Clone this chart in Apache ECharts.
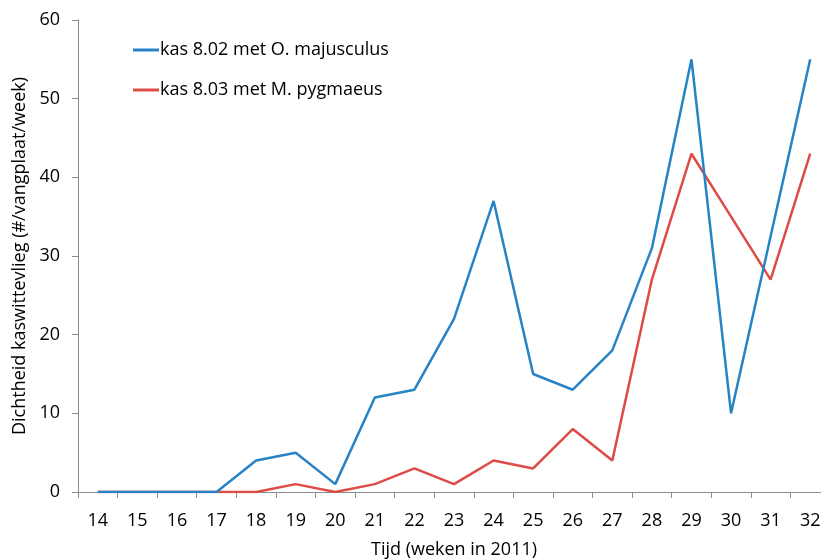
<!DOCTYPE html>
<html>
<head>
<meta charset="utf-8">
<script src="https://cdn.jsdelivr.net/npm/echarts@6/dist/echarts.min.js"></script>
<style>
  html, body { margin: 0; padding: 0; background: #fff; }
  #chart { width: 821px; height: 560px; }
</style>
</head>
<body>
<div id="chart"></div>
<script>
// weeknummers en dichtheden
var weeks = ['14', '15', '16', '17', '18', '19', '20', '21', '22', '23', '24', '25', '26', '27', '28', '29', '30', '31', '32'];
var majusculus = [0, 0, 0, 0, 4, 5, 1, 12, 13, 22, 37, 15, 13, 18, 31, 55, 10, 32.5, 55];
var pygmaeus = [0, 0, 0, 0, 0, 1, 0, 1, 3, 1, 4, 3, 8, 4, 27, 43, 35, 27, 43];
var yTicks = [0, 10, 20, 30, 40, 50, 60];

var chart = echarts.init(document.getElementById('chart'));
var font = 'Open Sans';
var axisGrey = '#8c8c8c';

var option = {
  animation: false,
  textStyle: { fontFamily: font },
  grid: {
    left: 78,
    right: -9,
    top: 20,
    bottom: 68,
    outerBoundsMode: 'none'
  },
  legend: {
    orient: 'vertical',
    left: 128,
    top: 36,
    itemWidth: 26,
    itemHeight: 3,
    itemGap: 22,
    icon: 'rect',
    textStyle: { fontSize: 18, color: '#000', fontFamily: font, padding: [0, 0, 0, -4] },
    data: ['kas 8.02 met O. majusculus', 'kas 8.03 met M. pygmaeus']
  },
  xAxis: {
    type: 'category',
    data: weeks,
    boundaryGap: true,
    name: 'Tijd (weken in 2011)',
    nameLocation: 'middle',
    nameGap: 49,
    nameTextStyle: { fontSize: 18, color: '#000', fontFamily: font },
    axisLine: { lineStyle: { color: axisGrey, width: 1 } },
    axisTick: { show: true, length: 6, lineStyle: { color: axisGrey } },
    axisLabel: { fontSize: 18, color: '#000', margin: 20, fontFamily: font },
    splitLine: { show: false }
  },
  yAxis: {
    type: 'value',
    min: yTicks[0],
    max: yTicks[yTicks.length - 1],
    interval: 10,
    name: 'Dichtheid kaswittevlieg (#/vangplaat/week)',
    nameLocation: 'middle',
    nameGap: 49,
    nameTextStyle: { fontSize: 18, color: '#000', fontFamily: font },
    axisLine: { show: true, lineStyle: { color: axisGrey, width: 1 } },
    axisTick: { show: true, length: 6, lineStyle: { color: axisGrey } },
    axisLabel: { fontSize: 18, color: '#000', margin: 18, fontFamily: font },
    splitLine: { show: false }
  },
  series: [
    {
      name: 'kas 8.02 met O. majusculus',
      type: 'line',
      data: majusculus,
      symbol: 'none',
      lineStyle: { color: '#2683c6', width: 2.5 },
      itemStyle: { color: '#2683c6' },
      z: 3
    },
    {
      name: 'kas 8.03 met M. pygmaeus',
      type: 'line',
      data: pygmaeus,
      symbol: 'none',
      lineStyle: { color: '#de4b46', width: 2.5 },
      itemStyle: { color: '#de4b46' },
      z: 2
    }
  ]
};

chart.setOption(option);
</script>
</body>
</html>
